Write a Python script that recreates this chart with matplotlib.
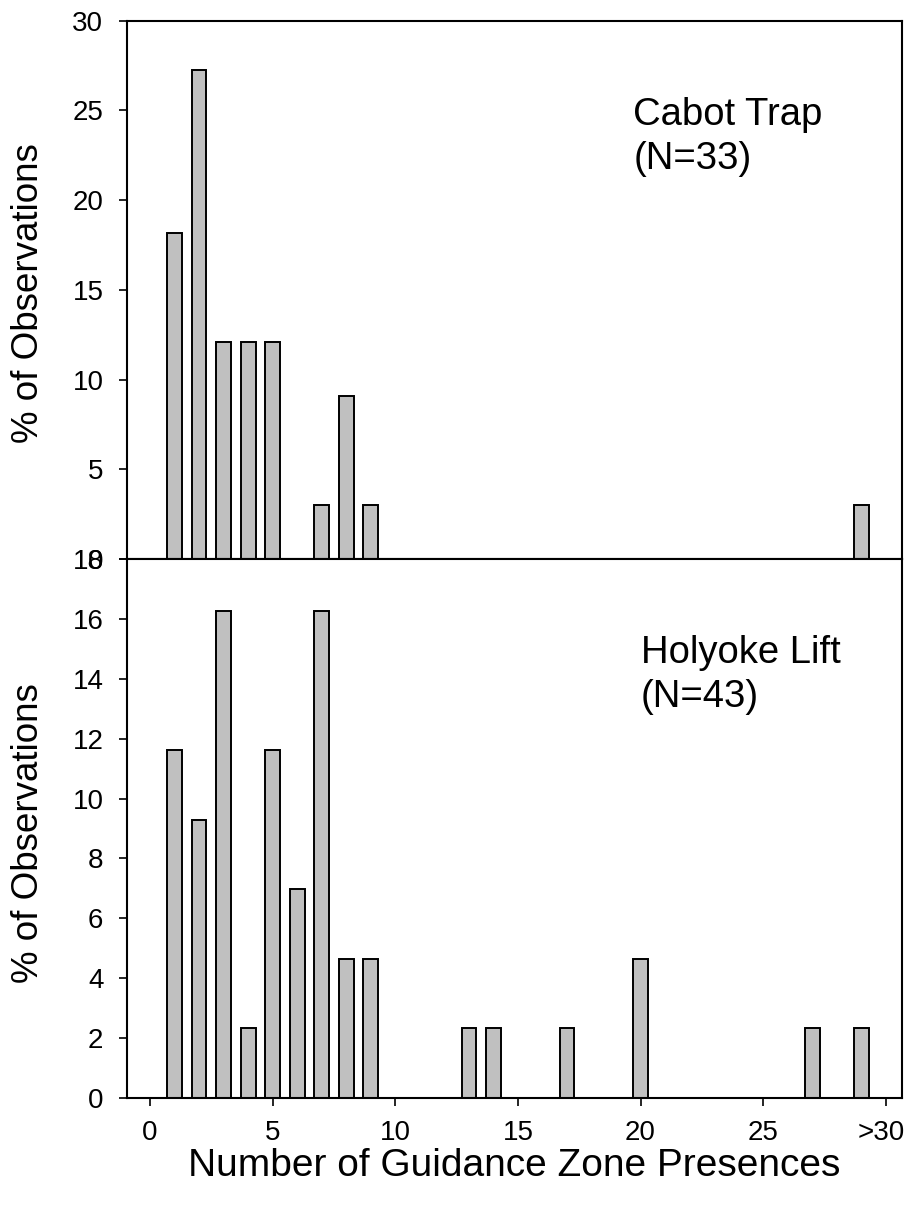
import matplotlib
matplotlib.use("Agg")
import matplotlib.pyplot as plt
from matplotlib.transforms import ScaledTranslation

plt.rcParams['font.family'] = ['Liberation Sans', 'DejaVu Sans']

# Percent of observations by number of guidance-zone presences
cabot_bins = [1, 2, 3, 4, 5, 7, 8, 9, 29]
cabot_pct = [18.18, 27.27, 12.12, 12.12, 12.12, 3.03, 9.09, 3.03, 3.03]

holyoke_bins = [1, 2, 3, 4, 5, 6, 7, 8, 9, 13, 14, 17, 20, 27, 29]
holyoke_pct = [11.63, 9.30, 16.28, 2.33, 11.63, 6.98, 16.28, 4.65, 4.65,
               2.33, 2.33, 2.33, 4.65, 2.33, 2.33]

x_ticks = [0, 5, 10, 15, 20, 25, 30]
x_ticklabels = ['0', '5', '10', '15', '20', '25', '>30']
top_yticks = [0, 5, 10, 15, 20, 25, 30]
bottom_yticks = [0, 2, 4, 6, 8, 10, 12, 14, 16, 18]

W, H = 906, 1214
fig = plt.figure(figsize=(W / 100, H / 100), dpi=100)

left = 127 / W
right = 902 / W
y_top = 1 - 20.7 / H
y_mid = 1 - 559 / H
y_bot = 1 - 1098 / H

ax_top = fig.add_axes([left, y_mid, right - left, y_top - y_mid])
ax_bot = fig.add_axes([left, y_bot, right - left, y_mid - y_bot])

bar_kw = dict(width=0.6, color='#c0c0c0', edgecolor='black', linewidth=1.4, zorder=2)
ax_top.bar(cabot_bins, cabot_pct, **bar_kw)
ax_bot.bar(holyoke_bins, holyoke_pct, **bar_kw)

xlim = (-0.94, 30.66)
for ax in (ax_top, ax_bot):
    ax.set_xlim(*xlim)
    for s in ax.spines.values():
        s.set_linewidth(1.5)
        s.set_zorder(3)
    ax.tick_params(axis='y', direction='out', length=6, width=1.2, pad=11,
                   labelsize=20, right=False)
    ax.tick_params(axis='x', direction='out', length=6, width=1.2, pad=10,
                   labelsize=20, top=False)

ax_top.set_ylim(0, 30)
ax_top.set_yticks(top_yticks)
ax_top.set_xticks([])

ax_bot.set_ylim(0, 18)
ax_bot.set_yticks(bottom_yticks)
ax_bot.set_xticks(x_ticks)
ax_bot.set_xticklabels(x_ticklabels)
# the last label sits against the right edge; nudge it inward a little
last = ax_bot.get_xticklabels()[-1]
last.set_transform(last.get_transform() + ScaledTranslation(-5 / 100, 0, fig.dpi_scale_trans))

ax_top.text(19.7, 25.75, 'Cabot Trap\n(N=33)', fontsize=27.5, ha='left', va='top',
            linespacing=1.27)
ax_bot.text(20.0, 15.45, 'Holyoke Lift\n(N=43)', fontsize=27.5, ha='left', va='top',
            linespacing=1.27)

fig.text(29 / W, 1 - 293.5 / H, '% of Observations', rotation=90, fontsize=26.5,
         ha='center', va='center')
fig.text(29 / W, 1 - 833.5 / H, '% of Observations', rotation=90, fontsize=26.5,
         ha='center', va='center')
fig.text(514 / W, 1 - 1166 / H, 'Number of Guidance Zone Presences', fontsize=28,
         ha='center', va='center')

fig.savefig('out.png', dpi=100)
